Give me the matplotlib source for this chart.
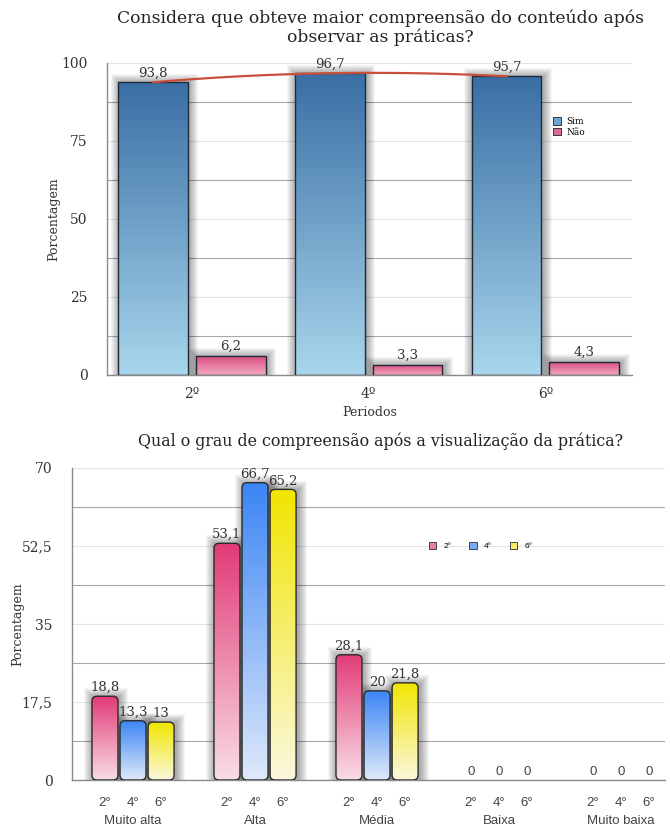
import numpy as np
import matplotlib.pyplot as plt
from matplotlib.patches import Rectangle, FancyBboxPatch
from matplotlib.ticker import MultipleLocator, FuncFormatter
import matplotlib.transforms as mtransforms

# Pergunta 1: compreensão do conteúdo após as práticas
periodos = ["2º", "4º", "6º"]
sim = [93.8, 96.7, 95.7]
nao = [6.2, 3.3, 4.3]

# Pergunta 2: grau de compreensão por período
graus = ["Muito alta", "Alta", "Média", "Baixa", "Muito baixa"]
series_labels = ["2°", "4°", "6°"]
p2 = [18.8, 53.1, 28.1, 0, 0]
p4 = [13.3, 66.7, 20, 0, 0]
p6 = [13, 65.2, 21.8, 0, 0]

SERIF = "DejaVu Serif"
SANS = "Liberation Sans"


def fmt(v):
    return f"{v:g}".replace(".", ",")


def px_units(ax):
    # size of one pixel in data units (x, y)
    inv = ax.transData.inverted()
    p0 = inv.transform((0, 0))
    p1 = inv.transform((1, 1))
    return abs(p1[0] - p0[0]), abs(p1[1] - p0[1])


def shadow(ax, x0, y0, w, h, layers=9, alpha=0.04):
    ux, uy = px_units(ax)
    for i in range(1, layers + 1):
        r = Rectangle((x0 - i * ux + 1.5 * ux, y0 - 2 * uy),
                      w + 2 * i * ux, h + i * uy + 1 * uy,
                      facecolor="black", edgecolor="none", alpha=alpha,
                      zorder=1)
        ax.add_patch(r)


def gradient_fill(ax, patch, x0, y0, w, h, top, bottom):
    c0 = np.array(plt.matplotlib.colors.to_rgb(top))
    c1 = np.array(plt.matplotlib.colors.to_rgb(bottom))
    t = np.linspace(0, 1, 128)[:, None]
    img = (c0 * (1 - t) + c1 * t)[:, None, :]
    im = ax.imshow(img, extent=(x0, x0 + w, y0, y0 + h), origin="upper",
                   aspect="auto", zorder=2, interpolation="bilinear")
    im.set_clip_path(patch)


def style_axes(ax, ymax, major, ylabel, labelpad):
    ax.set_ylim(0, ymax)
    ax.yaxis.set_major_locator(MultipleLocator(major))
    ax.yaxis.set_minor_locator(MultipleLocator(major / 2))
    ax.grid(which="major", axis="y", color="#e4e4e4", lw=0.8, zorder=0)
    ax.grid(which="minor", axis="y", color="#a8a8a8", lw=0.8, zorder=0)
    ax.set_axisbelow(True)
    for s in ["top", "right"]:
        ax.spines[s].set_visible(False)
    for s in ["left", "bottom"]:
        ax.spines[s].set_color("#8a8a8a")
        ax.spines[s].set_linewidth(1.0)
    ax.tick_params(which="both", length=0)
    ax.tick_params(axis="y", labelsize=10, labelcolor="#333333", pad=14)
    for lab in ax.get_yticklabels():
        lab.set_family(SERIF)
    ax.set_ylabel(ylabel, family=SERIF, fontsize=9, color="#333333",
                  labelpad=labelpad)


fig = plt.figure(figsize=(6.7, 8.27), dpi=100)
fig.patch.set_facecolor("white")

# ---------- top chart ----------
ax1 = fig.add_axes([0.1597, 0.5466, 0.7836, 0.3773])
ax1.set_xlim(-0.48, 2.49)
style_axes(ax1, 100, 25, "Porcentagem", 1)
ax1.yaxis.set_major_formatter(FuncFormatter(lambda v, _: fmt(v)))

x = np.arange(len(periodos))
bw = 0.395
off = 0.22
b_sim = ax1.bar(x - off, sim, bw, color="none", edgecolor="none", label="Sim")
b_nao = ax1.bar(x + off, nao, bw, color="none", edgecolor="none", label="Não")

for bars, vals, top, bot in [(b_sim, sim, "#3a6fa5", "#a8d6ec"),
                             (b_nao, nao, "#d84a7c", "#f1a8c1")]:
    for rect, v in zip(bars, vals):
        x0, y0, w, h = rect.get_x(), rect.get_y(), rect.get_width(), rect.get_height()
        shadow(ax1, x0, y0, w, h)
        clip = Rectangle((x0, y0), w, h, transform=ax1.transData)
        gradient_fill(ax1, clip, x0, y0, w, h, top, bot)
        ax1.add_patch(Rectangle((x0, y0), w, h, facecolor="none",
                                edgecolor="#1f2a38", lw=1.0, zorder=3))
        ax1.annotate(fmt(v), (x0 + w / 2, v), xytext=(0, 2),
                     textcoords="offset points", ha="center", va="bottom",
                     family=SERIF, fontsize=9.5, color="#333333", zorder=5)

# trend curve over the "Sim" bars
coef = np.polyfit(x - off, sim, 2)
xs = np.linspace(x[0] - off, x[-1] - off, 100)
ax1.plot(xs, np.polyval(coef, xs), color="#c8503a", lw=1.6, zorder=4)

ax1.set_xticks(x)
ax1.set_xticklabels(periodos, family=SERIF, fontsize=10, color="#333333")
ax1.tick_params(axis="x", pad=9)
ax1.set_xlabel("Periodos", family=SERIF, fontsize=9, color="#333333", labelpad=3)

h1 = [Rectangle((0, 0), 1, 1, facecolor="#6ea6d2", edgecolor="#2a3a4a", lw=0.7),
      Rectangle((0, 0), 1, 1, facecolor="#e06a93", edgecolor="#2a3a4a", lw=0.7)]
ax1.legend(h1, ["Sim", "Não"], loc="center left", bbox_to_anchor=(0.84, 0.795),
           frameon=False, prop={"family": SERIF, "size": 6.5},
           handlelength=0.9, handleheight=0.9, handletextpad=0.6,
           labelspacing=0.15, borderpad=0)

fig.text(0.568, 0.988, "Considera que obteve maior compreensão do conteúdo após\nobservar as práticas?",
         ha="center", va="top", family=SERIF, fontsize=12.3, color="#222222",
         linespacing=1.1)

# ---------- bottom chart ----------
ax2 = fig.add_axes([0.1075, 0.0568, 0.885, 0.3773])
ax2.set_xlim(-0.5, 4.36)
style_axes(ax2, 70, 17.5, "Porcentagem", -2)
ax2.yaxis.set_major_formatter(FuncFormatter(lambda v, _: fmt(v)))

g = np.arange(len(graus))
bw2 = 0.213
step = 0.23
colors = [("#e23b77", "#f9dce7"), ("#3b85f4", "#dee9fb"), ("#f1e500", "#fbf8de")]
fig.canvas.draw()
ux, uy = px_units(ax2)
tick_pos, tick_lab = [], []
for k, (vals, (top, bot)) in enumerate(zip([p2, p4, p6], colors)):
    bars = ax2.bar(g + (k - 1) * step, vals, bw2, color="none", edgecolor="none")
    for rect, v in zip(bars, vals):
        x0, w, h = rect.get_x(), rect.get_width(), rect.get_height()
        tick_pos.append(x0 + w / 2)
        tick_lab.append(series_labels[k])
        if h > 0:
            shadow(ax2, x0, 0, w, h)
            box = FancyBboxPatch((x0, 0), w, h,
                                 boxstyle=f"round,pad=0,rounding_size={5 * ux}",
                                 mutation_aspect=uy / ux,
                                 facecolor="none", edgecolor="#2a2a2a",
                                 lw=1.0, zorder=3)
            ax2.add_patch(box)
            clip = FancyBboxPatch((x0, 0), w, h,
                                  boxstyle=f"round,pad=0,rounding_size={5 * ux}",
                                  mutation_aspect=uy / ux, transform=ax2.transData)
            gradient_fill(ax2, clip, x0, 0, w, h, top, bot)
            ax2.annotate(fmt(v), (x0 + w / 2, v), xytext=(0, 1.5),
                         textcoords="offset points", ha="center", va="bottom",
                         family=SERIF, fontsize=9.5, color="#333333", zorder=5)
        else:
            ax2.annotate(fmt(v), (x0 + w / 2, v), xytext=(0, 1.5),
                         textcoords="offset points", ha="center", va="bottom",
                         family=SANS, fontsize=9.5, color="#444444", zorder=5)

ax2.set_xticks(tick_pos)
ax2.set_xticklabels(tick_lab, family=SANS, fontsize=9.5, color="#444444")
ax2.tick_params(axis="x", pad=12)
trans = mtransforms.blended_transform_factory(ax2.transData, ax2.transAxes)
for gi, name in zip(g, graus):
    ax2.text(gi, -0.13, name, transform=trans, ha="center", va="center",
             family=SANS, fontsize=9.5, color="#444444")

h2 = [Rectangle((0, 0), 1, 1, facecolor=c, edgecolor="#444444", lw=0.7)
      for c in ["#ec7aa2", "#79a8f0", "#f6ee5a"]]
ax2.legend(h2, series_labels, loc="center left", bbox_to_anchor=(0.595, 0.75),
           ncol=3, frameon=False, prop={"family": SANS, "size": 6},
           handlelength=0.9, handleheight=0.9, handletextpad=0.8,
           columnspacing=2.2, borderpad=0)

fig.text(0.568, 0.466, "Qual o grau de compreensão após a visualização da prática?",
         ha="center", va="center", family=SERIF, fontsize=11.4, color="#222222")

# keep limits after imshow
ax1.set_xlim(-0.48, 2.49)
ax1.set_ylim(0, 100)
ax2.set_xlim(-0.5, 4.36)
ax2.set_ylim(0, 70)

fig.savefig("out.png", dpi=100, facecolor="white")
